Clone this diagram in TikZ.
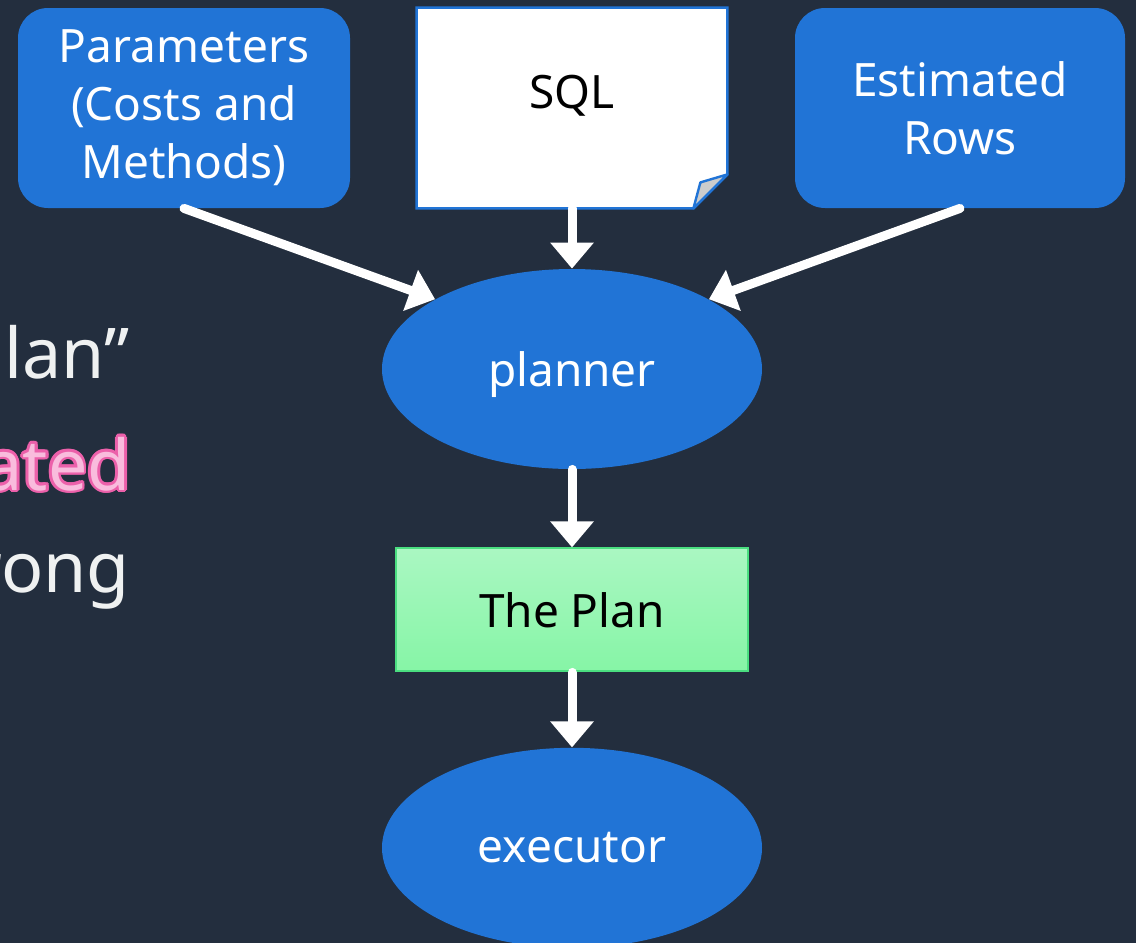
\documentclass[tikz,border=0pt]{standalone}
\usepackage{fontspec}
\setmainfont{Noto Sans}
\usetikzlibrary{arrows.meta,positioning,shapes.geometric}
\definecolor{slide}{RGB}{35,46,62}
\definecolor{boxblue}{RGB}{33,116,214}
\definecolor{plantop}{RGB}{170,247,194}
\definecolor{planbot}{RGB}{134,245,166}
\definecolor{planedge}{RGB}{74,222,128}
\definecolor{pinkfill}{RGB}{249,188,221}
\definecolor{pinkedge}{RGB}{236,96,170}
\definecolor{bullettext}{RGB}{239,241,241}

\begin{document}
\begin{tikzpicture}[
  x=0.5pt, y=-0.5pt,
  >={Triangle[length=13pt, width=21pt]},
  every node/.style={font=\fontsize{23}{29}\selectfont},
  inbox/.style={fill=boxblue, rounded corners=15pt, text=white, align=center,
                minimum width=166pt, minimum height=100pt, inner sep=0pt},
  stage/.style={ellipse, fill=boxblue, text=white, text depth=0pt,
                minimum width=190pt, minimum height=100pt, inner sep=0pt},
  flow/.style={->, white, line width=4.5pt, line cap=round},
  bullet/.style={anchor=base east, text=bullettext, inner sep=0pt,
                 font=\fontsize{35}{42}\selectfont},
  boldbullet/.style={bullet, font=\fontsize{35}{42}\selectfont\bfseries},
]
\path[use as bounding box, fill=slide] (0,0) rectangle (1136,943);

% inputs of the planner
\node[inbox] (params) at (184,108) {Parameters\\(Costs and\\Methods)};
\node[inbox, minimum width=165pt] (estim) at (960,108) {Estimated\\Rows};
\node[minimum width=155pt, minimum height=100pt, inner sep=0pt] (sql) at (572,108) {};
\filldraw[draw=boxblue, fill=white, line width=1.2pt]
  (sql.north west) -- (sql.north east) -- ([yshift=17pt]sql.south east)
  -- ([xshift=-17pt]sql.south east) -- (sql.south west) -- cycle;
\filldraw[draw=boxblue, fill=black!20, line width=1.2pt, line join=round]
  ([xshift=-17pt]sql.south east) -- ++(3.5pt,13pt) -- ([yshift=17pt]sql.south east) -- cycle;
\node[text=black] (sqltext) at ([yshift=6pt]sql.center) {SQL};

% planner -> plan -> executor
\node[stage] (planner) at (572,369) {planner};
\node[draw=planedge, line width=1pt, top color=plantop, bottom color=planbot,
      minimum width=176pt, minimum height=61.5pt, inner sep=0pt,
      below=39pt of planner] (plan) {The Plan};
\node[stage, below=37.5pt of plan] (executor) {executor};

\draw[flow] (sql.south) -- (planner.north);
\draw[flow] (params.south) -- (planner.153);
\draw[flow] (estim.south) -- (planner.27);
\draw[flow] (planner.south) -- (plan.north);
\draw[flow] (plan.south) -- (executor.north);

% bullet fragments at the left edge
\node[bullet] (lanfrag) at (130,378) {lan”};
\foreach \a in {0,30,...,330}
  \node[boldbullet, text=pinkedge, shift={(\a:1.4pt)}] (atededge\a) at (131,490) {ated};
\node[boldbullet, text=pinkfill] (atedfrag) at (131,490) {ated};
\node[bullet] (rongfrag) at (130,592) {rong};
\end{tikzpicture}
\end{document}
